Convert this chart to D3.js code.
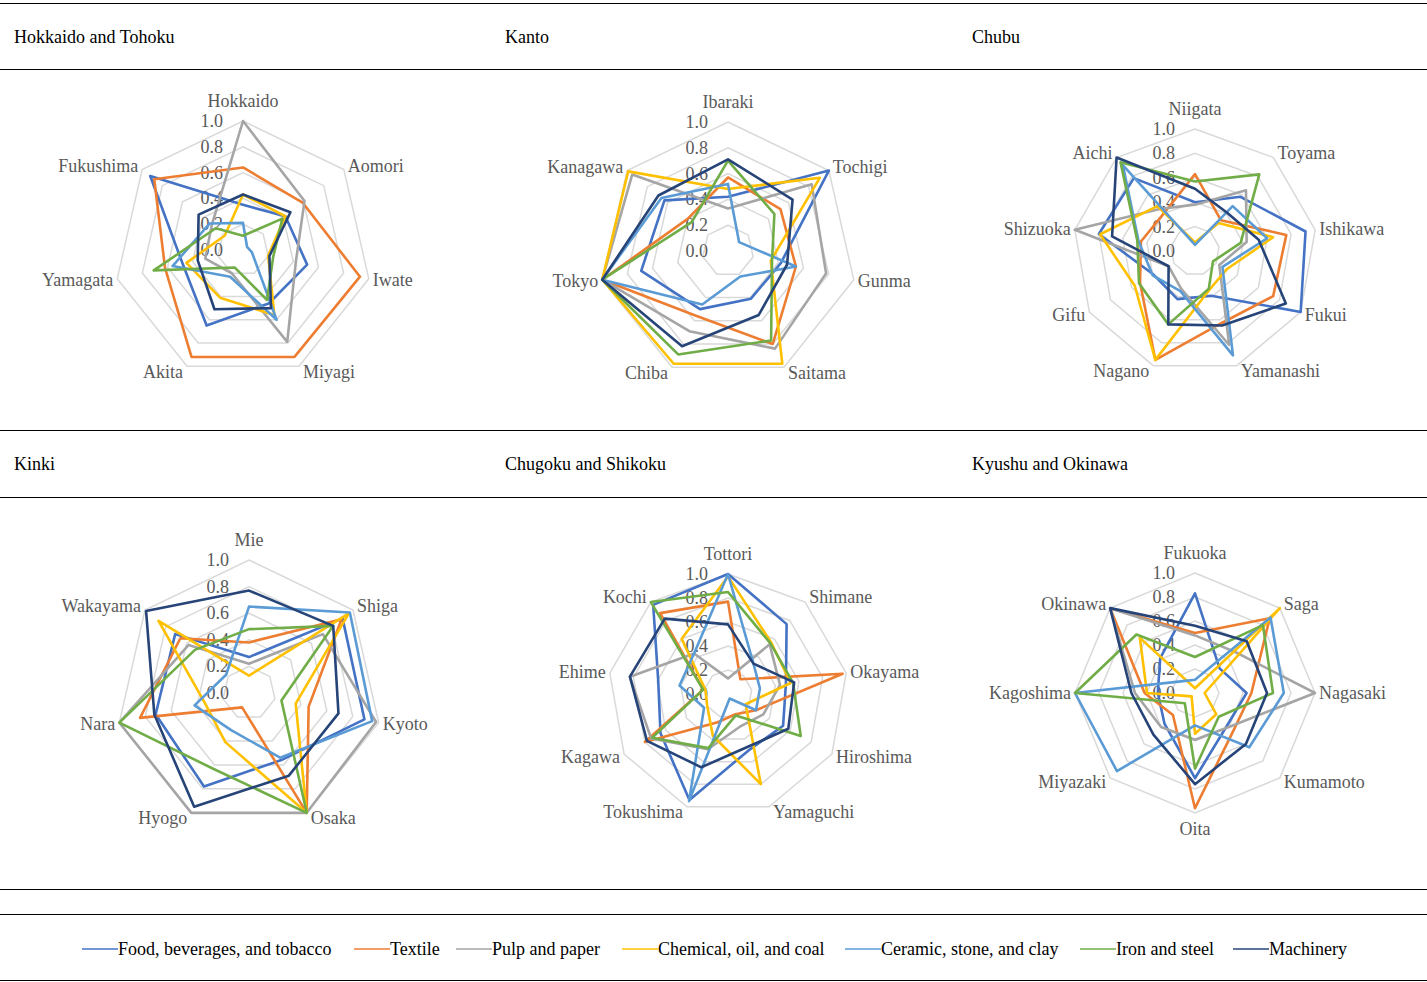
<!DOCTYPE html>
<html><head><meta charset="utf-8">
<script src="https://cdn.jsdelivr.net/npm/d3@7"></script>
<style>
body{margin:0;background:#fff;}
svg text{font-family:"Liberation Serif","Times New Roman",serif;}
</style>
</head><body>
<svg id="chart" width="1427" height="982"></svg>
<script>
// ---------- DATA ----------
const seriesNames = ["Food, beverages, and tobacco","Textile","Pulp and paper","Chemical, oil, and coal","Ceramic, stone, and clay","Iron and steel","Machinery"];
const seriesColors = ["#4472C4","#ED7D31","#A5A5A5","#FFC000","#5B9BD5","#70AD47","#264478"];
const tickValues = [0, 0.2, 0.4, 0.6, 0.8, 1.0];
const regionTitles = ["Hokkaido and Tohoku","Kanto","Chubu","Kinki","Chugoku and Shikoku","Kyushu and Okinawa"];

const hokkaidoTohokuPrefs = ["Hokkaido","Aomori","Iwate","Miyagi","Akita","Yamagata","Fukushima"];
const hokkaidoTohokuValues = [
  [0.35, 0.42, 0.51, 0.46, 0.65, 0.48, 0.92],
  [0.64, 0.59, 0.93, 0.92, 0.92, 0.62, 0.88],
  [1.00, 0.61, 0.42, 0.79, 0.20, 0.30, 0.31],
  [0.43, 0.42, 0.20, 0.56, 0.41, 0.45, 0.18],
  [0.21, 0.04, 0.07, 0.60, 0.23, 0.56, 0.33],
  [0.11, 0.39, 0.24, 0.43, 0.15, 0.71, 0.27],
  [0.43, 0.47, 0.21, 0.50, 0.51, 0.36, 0.44]
];

const kantoPrefs = ["Ibaraki","Tochigi","Gunma","Saitama","Chiba","Tokyo","Kanagawa"];
const kantoValues = [
  [0.42, 1.00, 0.42, 0.41, 0.50, 0.69, 0.63],
  [0.57, 0.52, 0.54, 0.80, 0.56, 1.00, 0.40],
  [0.33, 0.83, 0.78, 0.84, 0.69, 1.00, 0.95],
  [0.48, 0.91, 0.34, 0.97, 0.97, 1.00, 0.99],
  [0.52, 0.11, 0.54, 0.22, 0.46, 1.00, 0.66],
  [0.70, 0.46, 0.35, 0.77, 0.89, 1.00, 0.36],
  [0.71, 0.64, 0.47, 0.55, 0.82, 1.00, 0.69]
];

const chubuPrefs = ["Niigata","Toyama","Ishikawa","Fukui","Yamanashi","Nagano","Gifu","Shizuoka","Aichi"];
const chubuValues = [
  [0.40, 0.58, 0.92, 1.00, 0.39, 0.42, 0.39, 0.80, 0.78],
  [0.63, 0.33, 0.76, 0.74, 0.63, 0.95, 0.52, 0.45, 0.40],
  [0.38, 0.65, 0.43, 0.23, 0.82, 0.33, 0.25, 1.00, 0.45],
  [0.07, 0.30, 0.65, 0.30, 0.34, 0.95, 0.57, 0.79, 0.48],
  [0.05, 0.48, 0.60, 0.26, 0.91, 0.35, 0.40, 0.47, 0.92],
  [0.57, 0.82, 0.38, 0.17, 0.33, 0.64, 0.53, 0.48, 0.95],
  [0.51, 0.41, 0.53, 0.86, 0.65, 0.64, 0.25, 0.69, 1.00]
];

const kinkiPrefs = ["Mie","Shiga","Kyoto","Osaka","Hyogo","Nara","Wakayama"];
const kinkiValues = [
  [0.27, 0.90, 0.89, 0.56, 0.78, 0.72, 0.71],
  [0.38, 0.89, 0.46, 1.00, 0.12, 0.84, 0.66],
  [0.22, 0.71, 0.98, 1.00, 1.00, 1.00, 0.58],
  [0.13, 0.96, 0.36, 1.00, 0.41, 0.34, 0.87],
  [0.65, 0.97, 0.95, 0.54, 0.31, 0.42, 0.22],
  [0.48, 0.81, 0.25, 1.00, 0.63, 1.00, 0.52],
  [0.77, 0.81, 0.69, 0.69, 0.95, 0.73, 0.99]
];

const chugokuShikokuPrefs = ["Tottori","Shimane","Okayama","Hiroshima","Yamaguchi","Tokushima","Kagawa","Ehime","Kochi"];
const chugokuShikokuValues = [
  [1.00, 0.76, 0.49, 0.53, 0.50, 0.94, 0.65, 0.59, 0.97],
  [0.77, 0.16, 0.97, 0.27, 0.18, 0.25, 0.80, 0.21, 0.88],
  [0.13, 0.54, 0.44, 0.34, 0.29, 0.49, 0.74, 0.83, 0.44],
  [0.98, 0.56, 0.53, 0.17, 0.80, 0.37, 0.20, 0.19, 0.60],
  [1.00, 0.33, 0.27, 0.27, 0.04, 0.95, 0.23, 0.41, 0.44],
  [0.85, 0.55, 0.55, 0.70, 0.19, 0.48, 0.73, 0.21, 1.00],
  [0.58, 0.33, 0.56, 0.58, 0.47, 0.65, 0.78, 0.83, 0.82]
];

const kyushuOkinawaPrefs = ["Fukuoka","Saga","Nagasaki","Kumamoto","Oita","Miyazaki","Kagoshima","Okinawa"];
const kyushuOkinawaValues = [
  [0.83, 0.29, 0.43, 0.38, 0.71, 0.36, 0.31, 0.41],
  [0.50, 0.88, 0.47, 0.45, 0.96, 0.26, 0.42, 1.00],
  [0.48, 0.48, 1.00, 0.40, 0.39, 0.40, 0.50, 1.00],
  [0.04, 1.00, 0.08, 0.25, 0.34, 0.04, 0.40, 0.65],
  [0.11, 0.89, 0.74, 0.64, 0.27, 0.92, 1.00, 0.14],
  [0.30, 0.80, 0.65, 0.28, 0.63, 0.12, 1.00, 0.69],
  [0.56, 0.61, 0.60, 0.60, 0.76, 0.49, 0.53, 1.00]
];

// ---------- LAYOUT ----------
const panels = [
  {title: regionTitles[0], prefs: hokkaidoTohokuPrefs, values: hokkaidoTohokuValues, tx: 14,  ty: 37,  cx: 243,  cy: 250, R: 129},
  {title: regionTitles[1], prefs: kantoPrefs,          values: kantoValues,          tx: 505, ty: 37,  cx: 728,  cy: 251, R: 129},
  {title: regionTitles[2], prefs: chubuPrefs,          values: chubuValues,          tx: 972, ty: 37,  cx: 1195, cy: 251, R: 122},
  {title: regionTitles[3], prefs: kinkiPrefs,          values: kinkiValues,          tx: 14,  ty: 464, cx: 249,  cy: 693, R: 133},
  {title: regionTitles[4], prefs: chugokuShikokuPrefs, values: chugokuShikokuValues, tx: 505, ty: 464, cx: 728,  cy: 694, R: 120},
  {title: regionTitles[5], prefs: kyushuOkinawaPrefs,  values: kyushuOkinawaValues,  tx: 972, ty: 464, cx: 1195, cy: 693, R: 120}
];

const svg = d3.select("#chart");
const W = 1427;
const FONT = 18;
const labelGray = "#595959";

// horizontal rules
[3, 69, 430, 497, 889, 914, 980].forEach(y => {
  svg.append("line").attr("x1", 0).attr("x2", W).attr("y1", y + 0.5).attr("y2", y + 0.5)
    .attr("stroke", "#000").attr("stroke-width", 1);
});

panels.forEach(p => {
  const n = p.prefs.length;
  const r = d3.scaleLinear().domain([0, 1]).range([0, p.R]);
  const angle = d3.scalePoint().domain(d3.range(n + 1)).range([0, 2 * Math.PI]);
  const g = svg.append("g").attr("transform", `translate(${p.cx},${p.cy})`);

  // title
  svg.append("text").attr("x", p.tx).attr("y", p.ty).attr("dominant-baseline", "central")
    .attr("font-size", FONT).attr("fill", "#000").text(p.title);

  // grid polygons
  const ringLine = d3.lineRadial().angle((d, i) => angle(i)).radius(d => r(d)).curve(d3.curveLinearClosed);
  tickValues.filter(v => v > 0).forEach(v => {
    g.append("path").attr("d", ringLine(d3.range(n).map(() => v)))
      .attr("fill", "none").attr("stroke", "#D9D9D9").attr("stroke-width", 1.5);
  });

  // tick labels
  tickValues.forEach(v => {
    g.append("text").attr("x", -20).attr("y", -r(v)).attr("text-anchor", "end")
      .attr("dominant-baseline", "central").attr("font-size", FONT).attr("fill", labelGray)
      .text(d3.format(".1f")(v));
  });

  // category labels
  p.prefs.forEach((name, i) => {
    const a = angle(i);
    const s = Math.sin(a), c = Math.cos(a);
    const vx = r(1) * s, vy = -r(1) * c;
    let anchor = "middle", x = vx, y = vy;
    if (Math.abs(s) < 0.1) {
      y = vy + (c > 0 ? -20 : 16);
    } else {
      anchor = s > 0 ? "start" : "end";
      x = vx + (s > 0 ? 4 : -4);
      y = vy - c * 6;
    }
    g.append("text").attr("x", x).attr("y", y).attr("text-anchor", anchor)
      .attr("dominant-baseline", "central").attr("font-size", FONT).attr("fill", labelGray).text(name);
  });

  // series
  const seriesLine = d3.lineRadial().angle((d, i) => angle(i)).radius(d => r(d)).curve(d3.curveLinearClosed);
  p.values.forEach((vals, si) => {
    g.append("path").attr("d", seriesLine(vals))
      .attr("fill", "none").attr("stroke", seriesColors[si]).attr("stroke-width", 2.6)
      .attr("stroke-linejoin", "round");
  });
});

// legend
const legendY = 949;
const legendG = svg.append("g");
const legendStarts = [82, 354, 456, 622, 845, 1080, 1233];
seriesNames.forEach((name, i) => {
  const x0 = legendStarts[i];
  legendG.append("line").attr("x1", x0).attr("x2", x0 + 36).attr("y1", legendY).attr("y2", legendY)
    .attr("stroke", seriesColors[i]).attr("stroke-width", 1.3);
  legendG.append("text").attr("x", x0 + 36).attr("y", legendY).attr("dominant-baseline", "central")
    .attr("font-size", FONT).attr("fill", "#000").text(name);
});
</script>
</body></html>
